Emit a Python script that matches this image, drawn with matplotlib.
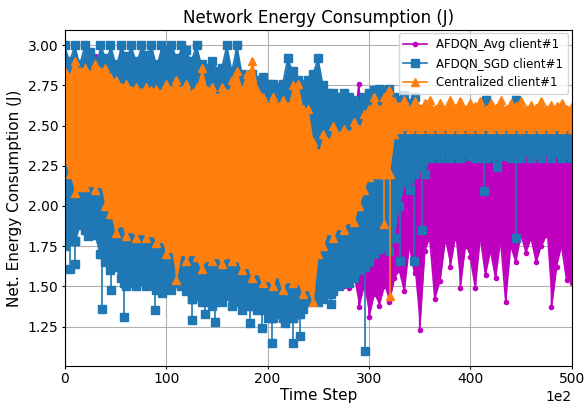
import numpy as np
import matplotlib.pyplot as plt

# time step grid (every 500 steps)
steps = np.arange(0, 50001, 500)

# AFDQN_Avg client#1: upper / lower envelope of the energy trace
avg_hi = [2.8, 2.75, 2.82, 2.78, 2.85, 2.8, 2.93, 2.8, 2.78, 2.82,
          2.76, 2.8, 2.74, 2.78, 2.75, 2.72, 2.76, 2.74, 2.7, 2.74,
          2.72, 2.7, 2.74, 2.7, 2.72, 2.7, 2.68, 2.72, 2.7, 2.66,
          2.7, 2.68, 2.66, 2.76, 2.68, 2.65, 2.68, 2.64, 2.66, 2.62,
          2.64, 2.62, 2.6, 2.64, 2.6, 2.62, 2.6, 2.75, 2.6, 2.58,
          2.6, 2.58, 2.56, 2.58, 2.55, 2.56, 2.55, 2.45, 2.76, 2.5,
          2.55, 2.5, 2.45, 2.5, 2.45, 2.4, 2.34, 2.34, 2.34, 2.34,
          2.34, 2.34, 2.34, 2.34, 2.34, 2.34, 2.34, 2.34, 2.34, 2.34,
          2.34, 2.34, 2.34, 2.34, 2.34, 2.34, 2.34, 2.34, 2.34, 2.34,
          2.34, 2.34, 2.34, 2.34, 2.34, 2.34, 2.34, 2.34, 2.34, 2.34,
          2.34]
avg_lo = [1.85, 1.9, 1.88, 1.92, 1.9, 1.88, 1.85, 1.8, 1.82, 1.78,
          1.8, 1.75, 1.72, 1.75, 1.7, 1.72, 1.7, 1.68, 1.7, 1.66,
          1.68, 1.65, 1.66, 1.64, 1.62, 1.64, 1.6, 1.62, 1.6, 1.58,
          1.6, 1.58, 1.56, 1.58, 1.55, 1.56, 1.54, 1.55, 1.52, 1.54,
          1.52, 1.5, 1.52, 1.5, 1.48, 1.5, 1.48, 1.5, 1.48, 1.5,
          1.48, 1.52, 1.5, 1.48, 1.5, 1.5, 1.49, 1.55, 1.37, 1.5,
          1.31, 1.45, 1.38, 1.5, 1.4, 1.55, 1.6, 1.47, 1.75, 1.58,
          1.23, 1.72, 1.8, 1.42, 1.53, 1.78, 1.62, 1.8, 1.49, 1.75,
          1.68, 1.49, 1.8, 1.57, 1.72, 1.55, 1.78, 1.4, 1.75, 1.65,
          1.82, 1.71, 1.8, 1.65, 1.75, 1.82, 1.37, 1.62, 1.75, 1.54,
          1.52]

# AFDQN_SGD client#1
sgd_hi = [3.0, 2.9, 3.0, 2.88, 3.0, 2.96, 2.9, 3.0, 2.92, 3.0,
          2.88, 3.0, 2.93, 3.0, 2.9, 3.0, 2.94, 3.0, 2.88, 3.0,
          2.97, 3.0, 2.92, 3.0, 2.97, 2.9, 3.0, 2.88, 2.86, 2.9,
          2.84, 2.86, 3.0, 2.84, 3.0, 2.82, 2.8, 2.82, 2.78, 2.8,
          2.76, 2.76, 2.74, 2.76, 2.92, 2.84, 2.78, 2.76, 2.78, 2.82,
          2.92, 2.75, 2.7, 2.7, 2.68, 2.7, 2.68, 2.66, 2.63, 2.68,
          2.7, 2.72, 2.73, 2.72, 2.73, 2.68, 2.66, 2.69, 2.64, 2.68,
          2.6, 2.56, 2.58, 2.56, 2.57, 2.56, 2.58, 2.56, 2.57, 2.56,
          2.58, 2.56, 2.57, 2.66, 2.56, 2.57, 2.56, 2.58, 2.56, 2.66,
          2.57, 2.56, 2.58, 2.56, 2.57, 2.56, 2.58, 2.56, 2.57, 2.56,
          2.57]
sgd_lo = [1.75, 1.8, 1.78, 1.88, 1.85, 1.86, 1.82, 1.7, 1.65, 1.6,
          1.62, 1.55, 1.5, 1.52, 1.5, 1.53, 1.5, 1.52, 1.48, 1.5,
          1.5, 1.48, 1.52, 1.5, 1.47, 1.42, 1.44, 1.4, 1.42, 1.38,
          1.42, 1.4, 1.44, 1.38, 1.4, 1.35, 1.4, 1.38, 1.35, 1.36,
          1.3, 1.3, 1.33, 1.3, 1.32, 1.3, 1.33, 1.36, 1.4, 1.42,
          1.4, 1.42, 1.45, 1.47, 1.5, 1.52, 1.52, 1.55, 1.6, 1.62,
          1.65, 1.7, 1.73, 1.75, 1.72, 1.8, 2.0, 2.15, 2.1, 2.2,
          2.25, 2.2, 2.3, 2.32, 2.3, 2.34, 2.3, 2.33, 2.3, 2.34,
          2.31, 2.3, 2.34, 2.3, 2.33, 2.3, 2.34, 2.31, 2.3, 2.33,
          2.3, 2.34, 2.3, 2.32, 2.3, 2.34, 2.3, 2.33, 2.3, 2.32,
          2.3]
# isolated SGD drops hanging below the band
sgd_dip_x = [500, 1000, 2300, 3650, 4600, 5800, 8900, 9600, 12500, 13800,
             14800, 18250, 19400, 20400, 21700, 22500, 23200, 26300, 29600,
             33100, 34400, 35200, 41300, 42600, 44500]
sgd_dip_top = [1.78, 1.78, 1.86, 1.7, 1.62, 1.52, 1.5, 1.5, 1.42, 1.4,
               1.4, 1.38, 1.35, 1.3, 1.3, 1.3, 1.33, 1.45, 1.62,
               2.3, 2.3, 2.3, 2.3, 2.3, 2.3]
sgd_dip_lo = [1.61, 1.64, 1.81, 1.36, 1.48, 1.31, 1.35, 1.46, 1.29, 1.33,
              1.28, 1.27, 1.24, 1.15, 1.27, 1.15, 1.19, 1.39, 1.1,
              1.66, 1.66, 1.85, 2.09, 2.24, 1.8]

# Centralized client#1
cen_hi = [2.84, 2.8, 2.9, 2.84, 2.86, 2.82, 2.88, 2.84, 2.86, 2.8,
          2.78, 2.74, 2.76, 2.72, 2.74, 2.71, 2.74, 2.72, 2.73, 2.7,
          2.76, 2.72, 2.78, 2.72, 2.76, 2.7, 2.74, 2.86, 2.72, 2.74,
          2.68, 2.74, 2.7, 2.78, 2.84, 2.72, 2.82, 2.9, 2.72, 2.68,
          2.62, 2.68, 2.62, 2.66, 2.62, 2.75, 2.76, 2.6, 2.6, 2.4,
          2.33, 2.45, 2.4, 2.5, 2.44, 2.48, 2.45, 2.52, 2.48, 2.57,
          2.6, 2.68, 2.6, 2.68, 2.72, 2.65, 2.62, 2.66, 2.6, 2.65,
          2.6, 2.64, 2.66, 2.6, 2.64, 2.6, 2.66, 2.61, 2.65, 2.6,
          2.64, 2.62, 2.65, 2.6, 2.64, 2.61, 2.66, 2.6, 2.64, 2.62,
          2.65, 2.6, 2.63, 2.61, 2.65, 2.6, 2.63, 2.62, 2.64, 2.6,
          2.62]
cen_lo = [2.3, 2.2, 2.08, 2.12, 2.12, 2.15, 2.1, 2.14, 2.0, 1.95,
          1.83, 1.9, 1.81, 1.86, 1.8, 1.85, 1.8, 1.84, 1.77, 1.8,
          1.7, 1.74, 1.54, 1.72, 1.66, 1.72, 1.68, 1.61, 1.68, 1.66,
          1.7, 1.64, 1.7, 1.66, 1.68, 1.6, 1.64, 1.55, 1.6, 1.52,
          1.56, 1.5, 1.58, 1.48, 1.55, 1.52, 1.54, 1.45, 1.5, 1.4,
          1.7, 1.75, 1.85, 1.8, 1.88, 1.85, 1.92, 1.9, 2.0, 2.1,
          2.18, 2.2, 2.2, 2.2, 2.2, 2.45, 2.48, 2.5, 2.48, 2.5,
          2.48, 2.5, 2.48, 2.5, 2.48, 2.5, 2.48, 2.5, 2.48, 2.5,
          2.48, 2.5, 2.48, 2.5, 2.48, 2.5, 2.48, 2.5, 2.48, 2.5,
          2.48, 2.5, 2.48, 2.5, 2.48, 2.5, 2.48, 2.5, 2.48, 2.5,
          2.48]
cen_dip_x = [31500, 32100]
cen_dip_top = [2.2, 2.2]
cen_dip_lo = [1.89, 1.44]

series = [
    ('AFDQN_Avg client#1', 'm', 'o', 3, avg_hi, avg_lo, None),
    ('AFDQN_SGD client#1', '#1f77b4', 's', 6, sgd_hi, sgd_lo,
     (sgd_dip_x, sgd_dip_top, sgd_dip_lo)),
    ('Centralized client#1', '#ff7f0e', '^', 6, cen_hi, cen_lo,
     (cen_dip_x, cen_dip_top, cen_dip_lo)),
]


def snake(hi, lo):
    # walk the envelope as one trace: up/down at each step
    ys = []
    for i, (h, l) in enumerate(zip(hi, lo)):
        ys += [h, l] if i % 2 == 0 else [l, h]
    return np.repeat(steps, 2), ys


fig = plt.figure(figsize=(5.84, 4.03), dpi=100)
ax = fig.add_axes([0.111, 0.092, 0.868, 0.834])
ax.grid(True)

for k, (label, color, marker, ms, hi, lo, dips) in enumerate(series):
    z = 2 + k * 0.1
    ax.fill_between(steps, lo, hi, color=color, lw=0, zorder=z)
    xs, ys = snake(hi, lo)
    ax.plot(xs, ys, color=color, marker=marker, markersize=ms,
            linewidth=1.2, label=label, zorder=z)
    if dips is not None:
        for dx, top, low in zip(*dips):
            ax.plot([dx, dx], [top, low], color=color, marker=marker,
                    markersize=ms, linewidth=1.2, zorder=z)

ax.set_xlim(0, 50000)
ax.set_ylim(1.005, 3.095)
ax.ticklabel_format(axis='x', style='sci', scilimits=(2, 2))
ax.tick_params(labelsize=10, length=2.5, pad=2)
ax.xaxis.get_offset_text().set_fontsize(10)
ax.set_xlabel('Time Step', fontsize=11, labelpad=1)
ax.set_ylabel('Net. Energy Consumption (J)', fontsize=11, labelpad=4)
ax.set_title('Network Energy Consumption (J)', fontsize=12, pad=5)
ax.legend(loc='upper right', fontsize=8.5, borderaxespad=0.3)

fig.savefig('out.png', dpi=100)
